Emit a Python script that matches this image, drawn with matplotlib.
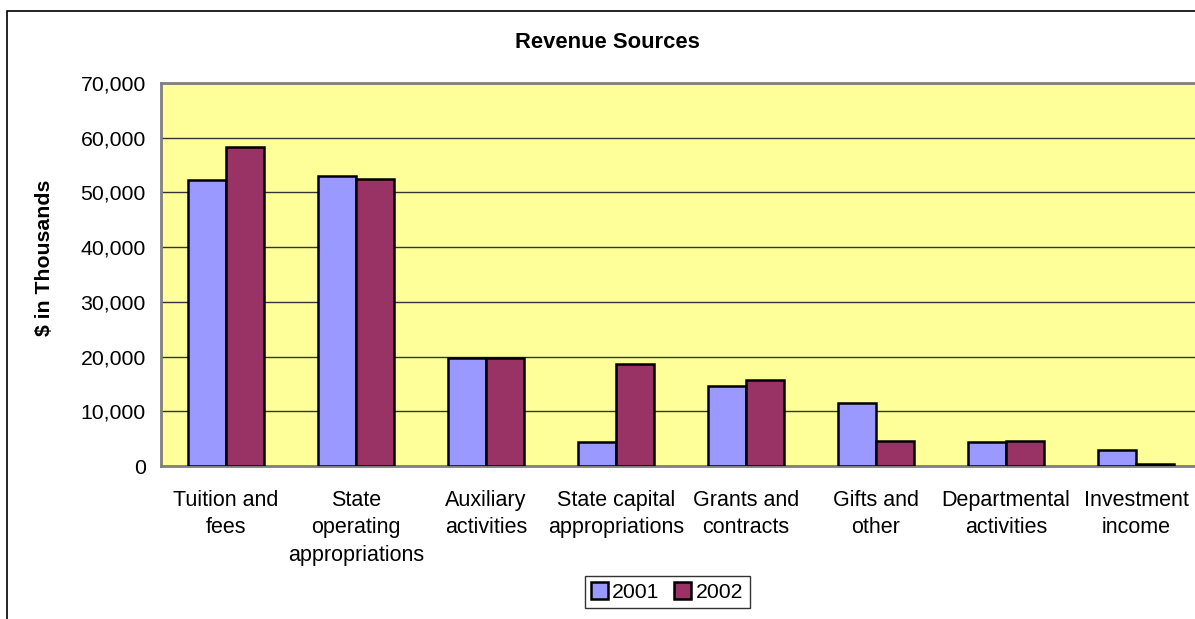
import numpy as np
import matplotlib
matplotlib.use("Agg")
import matplotlib.pyplot as plt
from matplotlib.patches import Rectangle
from matplotlib.ticker import FuncFormatter

categories = ["Tuition and\nfees", "State\noperating\nappropriations", "Auxiliary\nactivities",
              "State capital\nappropriations", "Grants and\ncontracts", "Gifts and\nother",
              "Departmental\nactivities", "Investment\nincome"]
rev_2001 = [52200, 53000, 19700, 4400, 14600, 11600, 4300, 2900]
rev_2002 = [58300, 52500, 19700, 18600, 15700, 4500, 4500, 300]
years = ["2001", "2002"]

plt.rcParams['font.family'] = ['Liberation Sans', 'DejaVu Sans']
fs = 15.3

fig = plt.figure(figsize=(11.95, 6.19), dpi=100)
ax = fig.add_axes([161 / 1195, 153 / 619, 1040 / 1195, 383 / 619])
ax.set_facecolor("#FFFF99")

x = np.arange(len(categories))
w = 0.29
ax.bar(x - w / 2, rev_2001, w, color="#9999FF", edgecolor="black", linewidth=1.8, label=years[0], zorder=3)
ax.bar(x + w / 2, rev_2002, w, color="#993366", edgecolor="black", linewidth=1.8, label=years[1], zorder=3)

ax.set_xlim(-0.5, len(categories) - 0.5)
ax.set_ylim(0, 70000)
ax.set_yticks(np.arange(0, 70001, 10000))
ax.yaxis.set_major_formatter(FuncFormatter(lambda v, p: f"{int(v):,}"))
ax.set_xticks(x)
ax.set_xticklabels(categories, fontsize=15.5, linespacing=1.42)
ax.tick_params(axis="y", labelsize=fs, length=0, pad=11)
ax.tick_params(axis="x", length=0, pad=17)
ax.grid(axis="y", color="#333333", linewidth=1.0, zorder=1)
for s in ["left", "top", "bottom", "right"]:
    ax.spines[s].set_color("#808080")
    ax.spines[s].set_linewidth(2)

fig.text(45 / 1195, 1 - 258 / 619, "$ in Thousands", fontsize=15.3, fontweight="bold",
         rotation=90, ha="center", va="center")
fig.text(607 / 1195, 1 - 43 / 619, "Revenue Sources", fontsize=15.8, fontweight="bold", ha="center", va="center")

fig.legend(loc="center", bbox_to_anchor=(667 / 1195, 1 - 592 / 619), ncol=2, fontsize=fs,
           frameon=True, fancybox=False, edgecolor="black", handlelength=0.8, handleheight=0.8,
           handletextpad=0.2, columnspacing=0.7, borderpad=0.3, borderaxespad=0)
fig.legends[0].get_frame().set_linewidth(1.0)

fig.patches.append(Rectangle((7 / 1195, -0.1), 1.2, 1 - 11 / 619 + 0.1, transform=fig.transFigure,
                             fill=False, edgecolor="black", linewidth=1.2))

fig.savefig("out.png", dpi=100)
